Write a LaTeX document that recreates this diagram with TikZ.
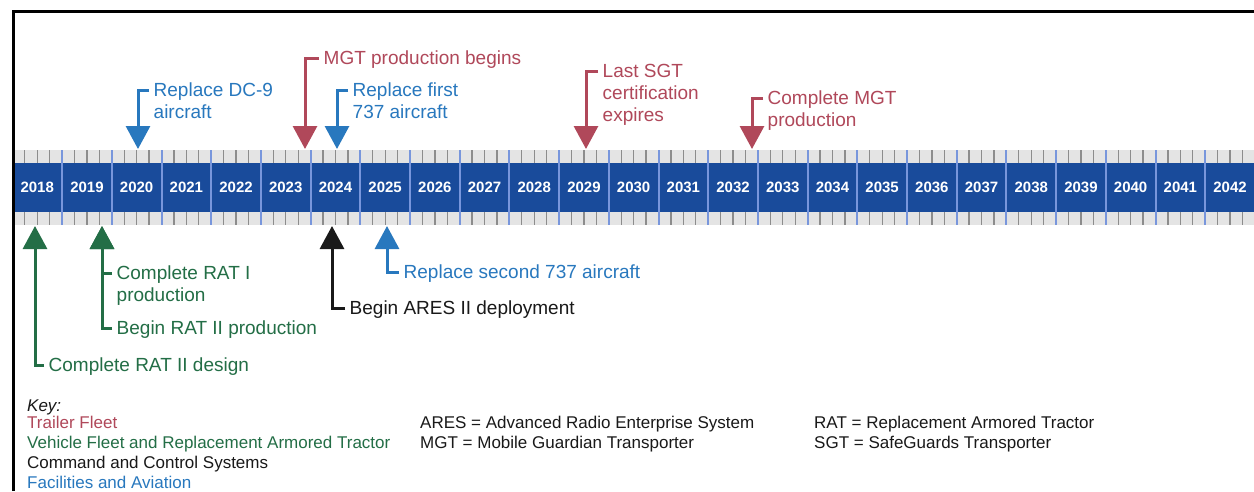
\documentclass[tikz,border=0pt]{standalone}
\usepackage{fontspec}
\setmainfont{Liberation Sans}
\usetikzlibrary{arrows.meta}
\definecolor{tred}{RGB}{176,72,90}
\definecolor{tgreen}{RGB}{35,110,70}
\definecolor{tblue}{RGB}{40,120,190}
\definecolor{bandblue}{RGB}{25,75,155}
\definecolor{sepblue}{RGB}{120,150,220}
\definecolor{stripgray}{RGB}{228,228,228}
\definecolor{tickgray}{RGB}{140,140,140}
\definecolor{ink}{RGB}{25,25,25}
\tikzset{
  lbl/.style={anchor=base west, inner sep=0pt, align=left, font=\fontsize{19}{22}\selectfont},
  conn/.style={line width=3pt, -{Triangle[width=24pt,length=23pt]}},
  keytxt/.style={anchor=base west, inner sep=0pt, font=\fontsize{17}{20}\selectfont},
  yeartxt/.style={text=white, inner sep=0pt, font=\fontsize{15}{18}\selectfont\bfseries},
  minortick/.style={tickgray, line width=1.3pt},
  yearsep/.style={sepblue, line width=2pt},
}
\begin{document}
\begin{tikzpicture}[x=1pt,y=-1pt]
\useasboundingbox (0,0) rectangle (1254,491);
\fill[white] (0,0) rectangle (1254,491);
% timeline band
\fill[stripgray] (13,150) rectangle (1254,225);
\fill[bandblue] (13,162.5) rectangle (1254,212);
\foreach \i in {0,...,24}{
  \pgfmathsetmacro\L{12.4+49.7*\i}
  \foreach \q in {1,2,3}{
    \draw[minortick] (\L+12.425*\q,150) -- (\L+12.425*\q,162.5);
    \draw[minortick] (\L+12.425*\q,212) -- (\L+12.425*\q,225);
  }
  \ifnum\i>0 \draw[yearsep] (\L,150) -- (\L,225); \fi
  \pgfmathtruncatemacro\yr{2018+\i}
  \node[yeartxt] (y\yr) at (\L+24.85,187) {\yr};
}
% arrow tips
\coordinate (tDC) at (138,149);
\coordinate (tMGTb) at (305,149);
\coordinate (tFirst) at (337,149);
\coordinate (tSGT) at (586,149);
\coordinate (tMGTc) at (752,149);
\coordinate (tRATd) at (35,226);
\coordinate (tRATp) at (102,226);
\coordinate (tARES) at (332,226);
\coordinate (tSecond) at (387,226);
% labels above (anchored at the baseline of the last line)
\node[lbl,text=tblue] (lDC) at (153.5,118.5) {Replace DC-9\\aircraft};
\node[lbl,text=tred] (lMGTb) at (323.5,64.5) {MGT production begins};
\node[lbl,text=tblue] (lFirst) at (352.5,118.5) {Replace first\\737 aircraft};
\node[lbl,text=tred] (lSGT) at (602.5,121.5) {Last SGT\\certification\\expires};
\node[lbl,text=tred] (lMGTc) at (767.5,126.5) {Complete MGT\\production};
% labels below
\node[lbl,text=tgreen] (lRATI) at (116.5,301.5) {Complete RAT I\\production};
\node[lbl,text=tgreen] (lRATp) at (116.5,334.5) {Begin RAT II production};
\node[lbl,text=tgreen] (lRATd) at (48.5,371.5) {Complete RAT II design};
\node[lbl,text=ink] (lARES) at (349.5,314.5) {Begin ARES II deployment};
\node[lbl,text=tblue] (lSecond) at (403.5,278.5) {Replace second 737 aircraft};
% connectors (start beside the first line of each label)
\draw[conn,tblue] ([xshift=-4.5pt,yshift=28.5pt]lDC.base west) -| (tDC);
\draw[conn,tred] ([xshift=-4.5pt,yshift=6.5pt]lMGTb.base west) -| (tMGTb);
\draw[conn,tblue] ([xshift=-4.5pt,yshift=28.5pt]lFirst.base west) -| (tFirst);
\draw[conn,tred] ([xshift=-4.5pt,yshift=50.5pt]lSGT.base west) -| (tSGT);
\draw[conn,tred] ([xshift=-4.5pt,yshift=28.5pt]lMGTc.base west) -| (tMGTc);
\draw[conn,tgreen] ([xshift=-4.5pt,yshift=6.5pt]lRATp.base west) -| (tRATp);
\draw[conn,tgreen] ([xshift=-4.5pt,yshift=28.5pt]lRATI.base west) -| (tRATp);
\draw[conn,tgreen] ([xshift=-4.5pt,yshift=6.5pt]lRATd.base west) -| (tRATd);
\draw[conn,ink] ([xshift=-4.5pt,yshift=6.5pt]lARES.base west) -| (tARES);
\draw[conn,tblue] ([xshift=-4.5pt,yshift=6.5pt]lSecond.base west) -| (tSecond);
% key
\node[keytxt,text=ink,font=\fontsize{17}{20}\selectfont\itshape] (kKey) at (27,411) {Key:};
\node[keytxt,text=tred] (kTrailer) at (27,428) {Trailer Fleet};
\node[keytxt,text=tgreen] (kVehicle) at (27,448) {Vehicle Fleet and Replacement Armored Tractor};
\node[keytxt,text=ink] (kCommand) at (27,468) {Command and Control Systems};
\node[keytxt,text=tblue] (kFacil) at (27,488) {Facilities and Aviation};
\node[keytxt,text=ink] (kARES) at (420,428) {ARES = Advanced Radio Enterprise System};
\node[keytxt,text=ink] (kMGT) at (420,448) {MGT = Mobile Guardian Transporter};
\node[keytxt,text=ink] (kRAT) at (814,428) {RAT = Replacement Armored Tractor};
\node[keytxt,text=ink] (kSGT) at (814,448) {SGT = SafeGuards Transporter};
% frame
\draw[black, line width=3pt] (13.3,491) -- (13.3,11.3) -- (1254,11.3);
\end{tikzpicture}
\end{document}
